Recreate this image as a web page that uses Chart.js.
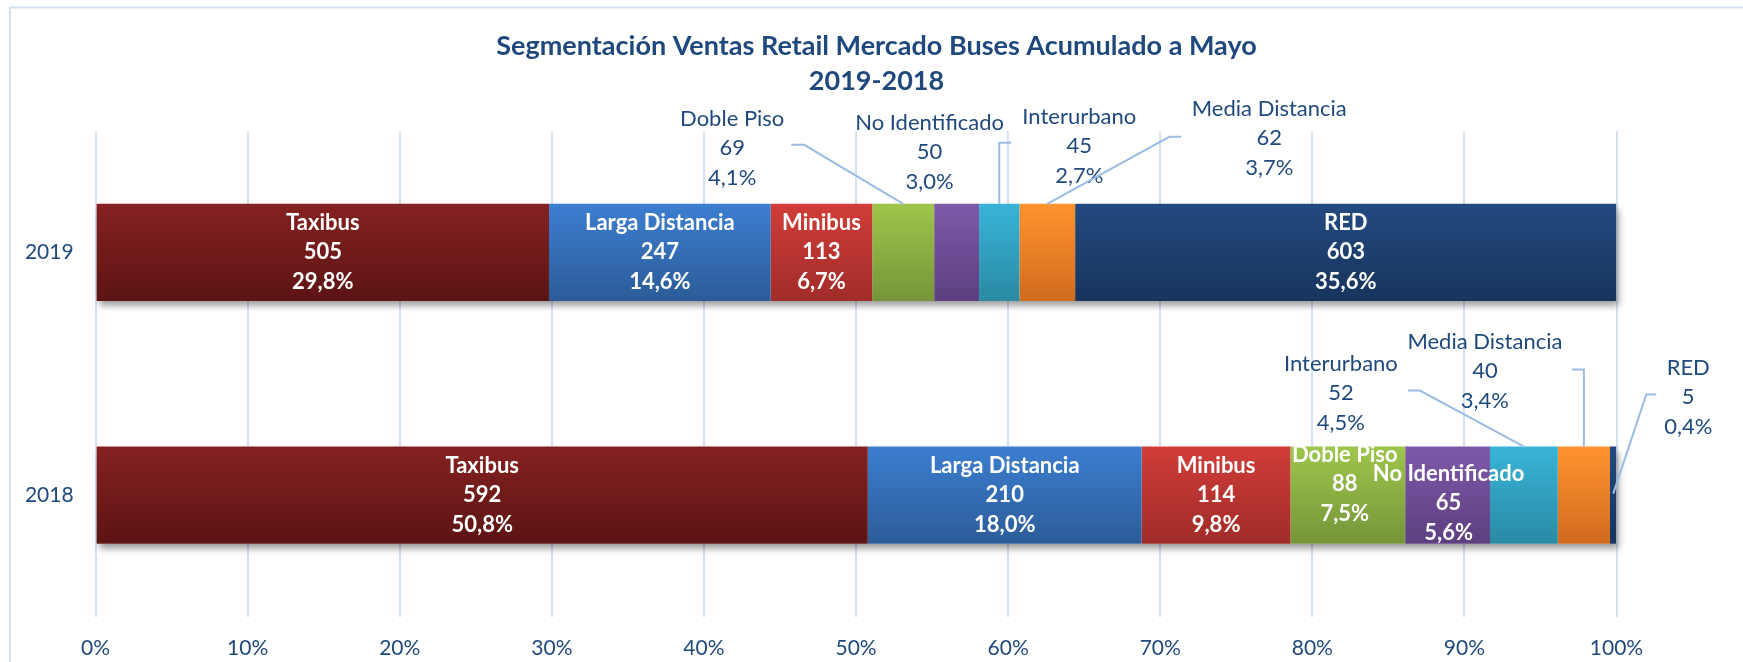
<!DOCTYPE html>
<html><head><meta charset="utf-8">
<script src="https://cdn.jsdelivr.net/npm/chart.js@4.4.1/dist/chart.umd.min.js"></script>
<style>html,body{margin:0;padding:0;background:#fff;overflow:hidden}canvas{display:block}</style>
</head><body>
<canvas id="c" width="1743" height="662"></canvas>
<script>
// ---------- data ----------
const categories = ['2019', '2018'];
const seriesNames = ['Taxibus', 'Larga Distancia', 'Minibus', 'Doble Piso', 'No Identificado', 'Interurbano', 'Media Distancia', 'RED'];
const taxibus        = [505, 592];
const largaDistancia = [247, 210];
const minibus        = [113, 114];
const doblePiso      = [69, 88];
const noIdentificado = [50, 65];
const interurbano    = [45, 52];
const mediaDistancia = [62, 40];
const red            = [603, 5];
const xTickValues = [0, 10, 20, 30, 40, 50, 60, 70, 80, 90, 100];
const titleLines = ['Segmentación Ventas Retail Mercado Buses Acumulado a Mayo', '2019-2018'];

const seriesValues = [taxibus, largaDistancia, minibus, doblePiso, noIdentificado, interurbano, mediaDistancia, red];
const totals = categories.map((_, i) => seriesValues.reduce((s, a) => s + a[i], 0));

// ---------- styles ----------
const topColors    = ['#852121', '#3C7ED0', '#D13D39', '#9EC64B', '#7F59A9', '#38B4D8', '#FF942E', '#234A80'];
const bottomColors = ['#5C1414', '#2C5C98', '#A02C29', '#76953A', '#5D3F80', '#2A8AA4', '#D06B1E', '#17345C'];
const DARK = '#1F497D';
const GRID = '#D5E1F1';
const LEADER = '#9BBCE4';
const LINE_H = 29.5;
const FONT = 'Lato';

// label placement (offsets relative to segment top-centre); not data
const labelPlacement = {
  '2019': {
    'Doble Piso':      { out: true, dx: -171, dy: -85, leader: [[-112, -59], [-99, -59], [0, 0]] },
    'No Identificado': { out: true, dx: -27,  dy: -81 },
    'Interurbano':     { out: true, dx: 80,   dy: -87, leader: [[12, -61], [0, -61], [0, 0]] },
    'Media Distancia': { out: true, dx: 222,  dy: -95, leader: [[134, -67], [122, -67], [0, 0]] }
  },
  '2018': {
    'Doble Piso':      { dx: -3, dy: -11 },
    'No Identificado': { dx: 1, dy: 8 },
    'Interurbano':     { out: true, dx: -183, dy: -83, leader: [[-116, -56], [-104, -56], [0, 0]] },
    'Media Distancia': { out: true, dx: -99,  dy: -105, leader: [[-12, -77], [0, -77], [0, 0]] },
    'RED':             { out: true, dx: 75,   dy: -79, leader: [[43, -52], [33, -52], [0, 47]] }
  }
};

const fmtPct = (v, t) => (v / t * 100).toFixed(1).replace('.', ',') + '%';

function gradientFor(i) {
  return (c) => {
    const chart = c.chart;
    if (!chart.chartArea || c.dataIndex === undefined) return topColors[i];
    const ys = chart.scales.y;
    const center = ys.getPixelForValue(c.dataIndex);
    const h = Math.abs(ys.getPixelForValue(1) - ys.getPixelForValue(0)) * 0.4;
    const g = chart.ctx.createLinearGradient(0, center - h / 2, 0, center + h / 2);
    g.addColorStop(0, topColors[i]);
    g.addColorStop(1, bottomColors[i]);
    return g;
  };
}

const datasets = seriesNames.map((name, i) => ({
  label: name,
  data: seriesValues[i].map((v, k) => v / totals[k] * 100),
  backgroundColor: gradientFor(i),
  borderWidth: 0,
  categoryPercentage: 1,
  barPercentage: 0.4
}));

const decoPlugin = {
  id: 'deco',
  beforeDraw(chart) {
    const ctx = chart.ctx;
    ctx.save();
    ctx.strokeStyle = '#D6E1F0';
    ctx.lineWidth = 2;
    ctx.beginPath();
    ctx.moveTo(10, 662); ctx.lineTo(10, 7.5); ctx.lineTo(1743, 7.5);
    ctx.stroke();
    ctx.restore();
  },
  beforeDatasetsDraw(chart) {
    const ctx = chart.ctx;
    const first = chart.getDatasetMeta(0), last = chart.getDatasetMeta(chart.data.datasets.length - 1);
    ctx.save();
    ctx.shadowColor = 'rgba(0,0,0,0.4)';
    ctx.shadowBlur = 7;
    ctx.shadowOffsetX = 2;
    ctx.shadowOffsetY = 5;
    ctx.fillStyle = '#ffffff';
    first.data.forEach((b, i) => {
      const l = last.data[i];
      const x0 = b.base, x1 = l.x;
      ctx.fillRect(x0, b.y - b.height / 2, x1 - x0, b.height);
    });
    ctx.restore();
  },
  afterDatasetsDraw(chart) {
    const ctx = chart.ctx;
    ctx.save();
    ctx.textAlign = 'center';
    ctx.textBaseline = 'middle';
    chart.data.datasets.forEach((ds, di) => {
      const meta = chart.getDatasetMeta(di);
      meta.data.forEach((bar, ci) => {
        const cx = (bar.x + bar.base) / 2;
        const top = bar.y - bar.height / 2;
        const name = seriesNames[di];
        const v = seriesValues[di][ci];
        const lines = [name, String(v), fmtPct(v, totals[ci])];
        const place = (labelPlacement[categories[ci]] || {})[name] || {};
        if (place.out) {
          if (place.leader) {
            ctx.strokeStyle = LEADER;
            ctx.lineWidth = 2;
            ctx.beginPath();
            place.leader.forEach((p, k) => {
              const px = cx + p[0], py = top + p[1];
              if (k === 0) ctx.moveTo(px, py); else ctx.lineTo(px, py);
            });
            ctx.stroke();
          }
          ctx.fillStyle = DARK;
          ctx.font = '22px ' + FONT;
          lines.forEach((t, k) => ctx.fillText(t, cx + place.dx, top + place.dy + k * LINE_H));
        } else {
          ctx.fillStyle = '#ffffff';
          ctx.font = 'bold 22px ' + FONT;
          const y0 = bar.y - LINE_H + (place.dy || 0);
          lines.forEach((t, k) => ctx.fillText(t, cx + (place.dx || 0), y0 + k * LINE_H));
        }
      });
    });
    ctx.restore();
  }
};

Chart.defaults.font.family = FONT;

new Chart(document.getElementById('c'), {
  type: 'bar',
  data: { labels: categories, datasets },
  options: {
    indexAxis: 'y',
    responsive: false,
    animation: false,
    devicePixelRatio: 1,
    layout: { padding: { left: 10, right: 0, top: 10, bottom: 0 } },
    plugins: {
      legend: { display: false },
      tooltip: { enabled: false },
      title: {
        display: true,
        text: titleLines,
        color: DARK,
        font: { family: FONT, size: 27, weight: 'bold', lineHeight: 1.296 },
        padding: { top: 18.5, bottom: 32.5 }
      }
    },
    scales: {
      x: {
        stacked: true,
        min: 0, max: 100,
        afterBuildTicks(s) { s.ticks = xTickValues.map(v => ({ value: v })); },
        afterFit(s) { s.height = 45.5; },
        ticks: { color: DARK, font: { size: 21 }, padding: 19, callback: v => v + '%' },
        grid: { color: GRID, lineWidth: 2, drawTicks: false },
        border: { display: false }
      },
      y: {
        stacked: true,
        afterFit(s) { s.width = 85.6; },
        ticks: { color: DARK, font: { size: 21 }, padding: 22 },
        grid: { display: false, drawTicks: false },
        border: { display: false }
      },
      y2: {
        type: 'linear',
        position: 'right',
        display: true,
        afterFit(s) { s.width = 126.5; },
        ticks: { display: false },
        grid: { display: false, drawTicks: false },
        border: { display: false }
      }
    }
  },
  plugins: [decoPlugin]
});
</script>
</body></html>
